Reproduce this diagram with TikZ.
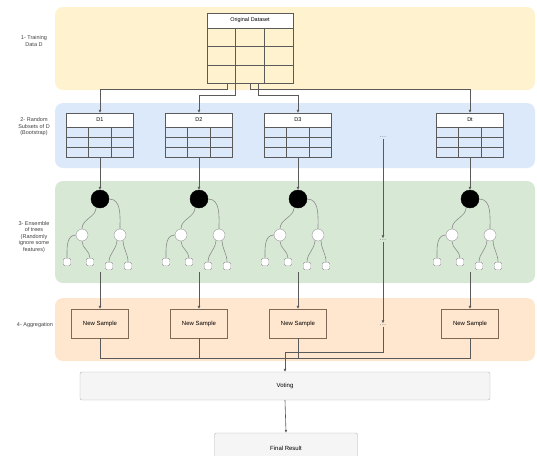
\documentclass[tikz,border=0pt]{standalone}
\usepackage{fontspec}
\setmainfont{Liberation Sans}
\usepackage{tikz}
\usetikzlibrary{arrows.meta, positioning, calc}
\definecolor{bandyellow}{RGB}{255, 242, 206}
\definecolor{bandblue}{RGB}{220, 233, 250}
\definecolor{bandgreen}{RGB}{215, 233, 213}
\definecolor{bandorange}{RGB}{255, 230, 206}
\definecolor{linegray}{RGB}{90, 90, 90}
\definecolor{aggline}{RGB}{125, 105, 85}

\begin{document}
\begin{tikzpicture}[
    x=1pt, y=-1pt,
    band/.style={rounded corners=8pt, fill=#1, draw=none},
    stage/.style={font=\fontsize{5.5}{6.5}\selectfont, align=center, text=black!75},
    thead/.style={rectangle, draw=linegray, fill=white, inner sep=0pt, minimum width=#1, minimum height=14pt, font=\fontsize{5.5}{6}\selectfont},
    tbody/.style={rectangle, draw=linegray, inner sep=0pt, minimum width=#1},
    rootnode/.style={circle, fill=black, draw=black, minimum size=18pt, inner sep=0pt},
    innode/.style={circle, fill=white, draw=gray!80, minimum size=12pt, inner sep=0pt},
    leafnode/.style={rectangle, rounded corners=1.5pt, fill=white, draw=gray!80, minimum size=7.5pt, inner sep=0pt},
    aggbox/.style={rectangle, draw=aggline, minimum width=57pt, minimum height=29pt, font=\fontsize{6}{7}\selectfont},
    dots/.style={font=\fontsize{8}{8}\selectfont, text=gray!90, inner sep=1pt},
    edge/.style={draw=gray!90, line width=0.6pt},
    link/.style={draw=linegray, line width=0.6pt},
    arr/.style={draw=linegray, line width=0.6pt, -{Latex[length=3pt, width=3pt]}},
    greybox/.style={rectangle, rounded corners=2pt, fill=black!4, draw=black!30, font=\fontsize{6}{7}\selectfont}
  ]
  \useasboundingbox (0,0) rectangle (537,455);

  % Bands
  \fill[band=bandyellow] (55,7) rectangle (535,90);
  \fill[band=bandblue] (55,103) rectangle (535,168);
  \fill[band=bandgreen] (55,181) rectangle (535,283);
  \fill[band=bandorange] (55,298) rectangle (535,361);

  % Stage labels
  \node[stage] (s1) at (34,41) {1- Training\\Data D};
  \node[stage] (s2) at (34,127) {2- Random\\Subsets of D\\(Bootstrap)};
  \node[stage] (s3) at (34,237) {3- Ensemble\\of trees\\(Randomly\\ignore some\\features)};
  \node[stage] (s4) at (35,325) {4- Aggregation};

  % Original dataset
  \node[thead=86pt, minimum height=15pt] (od) at (250,20.5) {Original Dataset};
  \node[tbody=86pt, minimum height=55pt, below=0pt of od] (odb) {};
  \foreach \c in {1,2}
    \draw[link] ([xshift=\c*28.67pt]odb.north west) -- ([xshift=\c*28.67pt]odb.south west);
  \foreach \r in {1,2}
    \draw[link] ([yshift=-\r*18.33pt]odb.north west) -- ([yshift=-\r*18.33pt]odb.north east);

  % Subsets, trees and aggregation, one column each
  \foreach \n/\cx/\lbl in {1/100/D1, 2/199/D2, 3/298/D3, t/470/Dt} {
    \node[thead=67pt] (d\n) at (\cx,120) {\lbl};
    \node[tbody=67pt, minimum height=30pt, below=0pt of d\n] (db\n) {};
    \foreach \c in {1,2}
      \draw[link] ([xshift=\c*22.33pt]db\n.north west) -- ([xshift=\c*22.33pt]db\n.south west);
    \foreach \r in {1,2}
      \draw[link] ([yshift=-\r*10pt]db\n.north west) -- ([yshift=-\r*10pt]db\n.north east);

    % tree
    \node[rootnode] (r\n) at (\cx,199) {};
    \node[innode] (ca\n) at (\cx-18,235) {};
    \node[innode] (cb\n) at (\cx+20,235) {};
    \node[leafnode] (fa\n) at (\cx-33,262) {};
    \node[leafnode] (fb\n) at (\cx-10,262) {};
    \node[leafnode] (fc\n) at (\cx+9,266) {};
    \node[leafnode] (fd\n) at (\cx+28,266) {};
    \draw[edge] (r\n.-115) to[out=-90, in=90] (ca\n.north);
    \draw[edge] (r\n.east) to[out=0, in=90] (cb\n.north);
    \draw[edge] (ca\n.west) to[out=180, in=90] (fa\n.north);
    \draw[edge] (ca\n.south) to[out=-90, in=90] (fb\n.north);
    \draw[edge] (cb\n.-120) to[out=-90, in=90] (fc\n.north);
    \draw[edge] (cb\n.-60) to[out=-90, in=90] (fd\n.north);
    \coordinate (tb\n) at (\cx,272);

    % aggregation
    \node[aggbox] (a\n) at (\cx,323.5) {New Sample};

    \draw[arr] (db\n.south) -- (r\n.north);
    \draw[arr] (tb\n) -- (a\n.north);
  }

  % Dataset to subsets
  \draw[arr] ([xshift=-23pt]odb.south) -- ++(0,6) -| (d1.north);
  \draw[arr] ([xshift=-15pt]odb.south) -- ++(0,12) -| (d2.north);
  \draw[arr] ([xshift=8pt]odb.south) -- ++(0,12) -| (d3.north);
  \draw[arr] (odb.south) -- ++(0,6) -| (dt.north);

  % Dots column
  \node[dots] (dd1) at (383,137) {...};
  \node[dots] (dd2) at (383,240) {...};
  \node[dots] (dd3) at (383,325) {...};
  \draw[arr] (dd1) -- (dd2);
  \draw[arr] (dd2) -- (dd3);

  % Voting and result
  \node[greybox, minimum width=410pt, minimum height=28pt] (vote) at (285,386) {Voting};
  \node[greybox, minimum width=143pt, minimum height=30pt] (final) at (286,448) {Final Result};

  \coordinate (mj) at (285,358);
  \coordinate (dj) at (285,352);
  \foreach \n in {1,2,3,t}
    \draw[link] (a\n.south) |- (mj);
  \draw[link] (dd3.south) |- (dj) -- (mj);
  \draw[arr] (mj) -- (vote.north);
  \draw[arr] (vote.south) -- (final.north);

\end{tikzpicture}
\end{document}
